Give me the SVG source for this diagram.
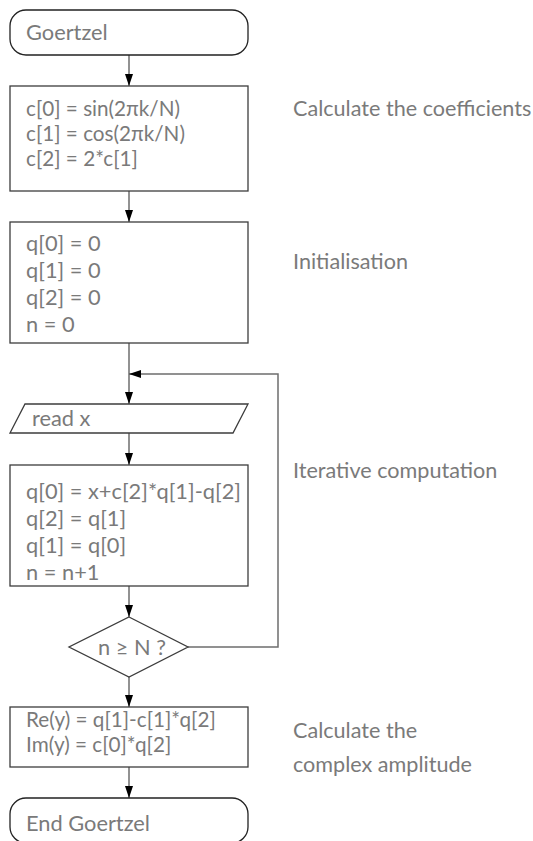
<svg xmlns="http://www.w3.org/2000/svg" width="533" height="841" viewBox="0 0 533 841">
<style>
.box{fill:#fff;stroke:#3c3c3c;stroke-width:1.3}
.term{fill:#fff;stroke:#222;stroke-width:1.3}
.t{font-family:Lato,"Open Sans",sans-serif;font-size:21.8px;fill:#7a7a7a}
.ts{font-family:Lato,"Open Sans",sans-serif;font-size:20.7px;fill:#7a7a7a}
.lbl{font-family:Lato,"Open Sans",sans-serif;font-size:21.6px;fill:#7a7a7a}
.c{fill:none;stroke:#6e6e6e;stroke-width:1.5}
</style>
<defs>
<marker id="ah" markerWidth="12" markerHeight="8" refX="12" refY="4" viewBox="0 0 12 8" markerUnits="userSpaceOnUse" orient="auto">
<path d="M0,0 L12,4 L0,8 Z" fill="#000"/>
</marker>
</defs>
<rect width="533" height="841" fill="#fff"/>
<g id="connectors">
<line class="c" x1="129" y1="55" x2="129" y2="86" marker-end="url(#ah)"/>
<line class="c" x1="129" y1="191" x2="129" y2="222" marker-end="url(#ah)"/>
<line class="c" x1="129" y1="343" x2="129" y2="404" marker-end="url(#ah)"/>
<line class="c" x1="129" y1="433" x2="129" y2="465" marker-end="url(#ah)"/>
<line class="c" x1="129" y1="586" x2="129" y2="617" marker-end="url(#ah)"/>
<polyline class="c" points="188,647 278,647 278,374 129,374" marker-end="url(#ah)"/>
<line class="c" x1="129" y1="677" x2="129" y2="707" marker-end="url(#ah)"/>
<line class="c" x1="129" y1="767" x2="129" y2="798" marker-end="url(#ah)"/>
</g>
<g id="start">
<rect class="term" x="10" y="10" width="238" height="45" rx="16" ry="16"/>
<text class="t" x="26" y="40">Goertzel</text>
</g>
<g id="coeffs">
<rect class="box" x="10" y="86" width="238" height="105"/>
<text class="ts" x="26" y="116"><tspan x="26" y="116">c[0] = sin(2πk/N)</tspan><tspan x="26" y="141">c[1] = cos(2πk/N)</tspan><tspan x="26" y="166">c[2] = 2*c[1]</tspan></text>
</g>
<g id="init">
<rect class="box" x="10" y="222" width="238" height="121"/>
<text class="t" x="26" y="251"><tspan x="26" y="251">q[0] = 0</tspan><tspan x="26" y="278">q[1] = 0</tspan><tspan x="26" y="305">q[2] = 0</tspan><tspan x="26" y="332">n = 0</tspan></text>
</g>
<g id="read">
<polygon class="box" points="25,404 248,404 233,433 10,433"/>
<text class="t" x="32" y="426">read x</text>
</g>
<g id="iter">
<rect class="box" x="10" y="465" width="238" height="121"/>
<text class="t" x="26" y="499"><tspan x="26" y="499">q[0] = x+c[2]*q[1]-q[2]</tspan><tspan x="26" y="526">q[2] = q[1]</tspan><tspan x="26" y="553">q[1] = q[0]</tspan><tspan x="26" y="580">n = n+1</tspan></text>
</g>
<g id="decision">
<polygon class="box" points="129,617 188,647 129,677 69,647"/>
<text class="t" x="132" y="655" text-anchor="middle">n ≥ N ?</text>
</g>
<g id="result">
<rect class="box" x="10" y="707" width="238" height="60"/>
<text class="ts" x="26" y="727"><tspan x="26" y="727">Re(y) = q[1]-c[1]*q[2]</tspan><tspan x="26" y="752">Im(y) = c[0]*q[2]</tspan></text>
</g>
<g id="end">
<rect class="term" x="10" y="798" width="238" height="45" rx="16" ry="16"/>
<text class="t" x="26" y="831">End Goertzel</text>
</g>
<g id="labels">
<text class="lbl" x="293" y="116">Calculate the coefficients</text>
<text class="lbl" x="293" y="269">Initialisation</text>
<text class="lbl" x="293" y="478">Iterative computation</text>
<text class="lbl" x="293" y="738"><tspan x="293" y="738">Calculate the</tspan><tspan x="293" y="772">complex amplitude</tspan></text>
</g>
</svg>
